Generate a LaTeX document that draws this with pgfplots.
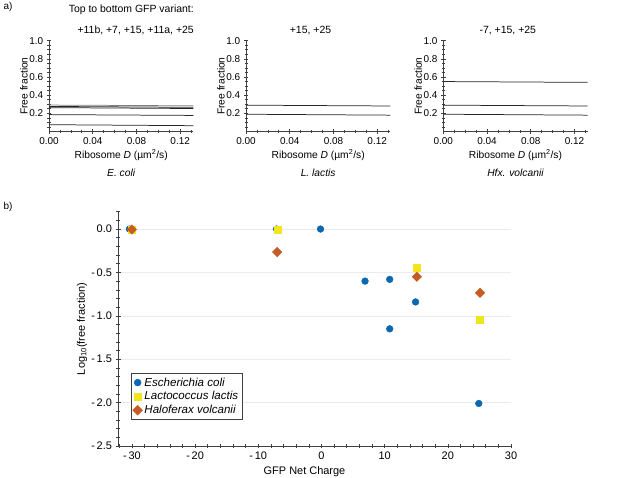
\documentclass[border=0pt]{standalone}
\usepackage{fontspec}
\setmainfont{Liberation Sans}
\usepackage{pgfplots}
\pgfplotsset{compat=1.18}
\definecolor{cblue}{HTML}{0A67B1}
\definecolor{cyel}{HTML}{F2E51A}
\definecolor{corange}{HTML}{C55C26}
\definecolor{axgray}{HTML}{404040}
\pgfplotsset{
 panel/.style={
  at={(#1)}, anchor=south west,
  scale only axis, width=144.3bp, height=90.8bp,
  xmin=0, xmax=0.132, ymin=0, ymax=1.0,
  clip=false,
  axis lines=left, axis line style={-, axgray, line width=0.6pt},
  tick align=center, tick style={axgray, line width=0.6pt},
  major tick length=4.5bp, minor tick length=3bp,
  xtick={0,0.04,0.08,0.12}, xticklabels={0.00,0.04,0.08,0.12},
  minor xtick={0.01,0.02,0.03,0.05,0.06,0.07,0.09,0.10,0.11,0.13},
  ytick={0.2,0.4,0.6,0.8,1.0}, yticklabels={0.2,0.4,0.6,0.8,1.0},
  minor ytick={0.05,0.1,0.15,0.25,0.3,0.35,0.45,0.5,0.55,0.65,0.7,0.75,0.85,0.9,0.95},
  tick label style={font=\fontsize{10}{12}\selectfont},
  label style={font=\fontsize{10.3}{12}\selectfont},
  xlabel={Ribosome \textit{D} (µm\textsuperscript{2}/s)},
  ylabel={Free fraction},
  xlabel style={at={(axis description cs:0.5,0)}, anchor=center, yshift=-23.5bp},
  ylabel style={at={(axis description cs:0,0.5)}, anchor=center, yshift=25bp},
 },
 ln/.style={line width=0.75pt, color=black!85, no marks},
 lg/.style={line width=0.75pt, color=black!50, no marks},
}
\begin{document}
\begin{tikzpicture}
\useasboundingbox (0,0) rectangle (617bp,478bp);
\node[anchor=west, font=\fontsize{10}{12}\selectfont] at (0bp,471bp) {a)};
\node[anchor=west, font=\fontsize{10}{12}\selectfont] at (0bp,271bp) {b)};

% Panel 1: E. coli
\begin{axis}[panel={49bp,346.5bp}]
\addplot[lg] coordinates {(0,0.291) (0.132,0.283)};
\addplot[ln] coordinates {(0,0.276) (0.132,0.266)};
\addplot[ln] coordinates {(0,0.263) (0.132,0.253)};
\addplot[ln] coordinates {(0,0.186) (0.132,0.177)};
\addplot[ln] coordinates {(0,0.075) (0.132,0.064)};
\node[anchor=east, font=\fontsize{10.5}{12}\selectfont] at (rel axis cs:1,1) [xshift=4bp,yshift=30.7bp] {Top to bottom GFP variant:};
\node[anchor=east, font=\fontsize{10.5}{12}\selectfont] at (rel axis cs:1,1) [xshift=4bp,yshift=10bp] {+11b, +7, +15, +11a, +25};
\node[font=\fontsize{10.3}{12}\selectfont\itshape] at (rel axis cs:0.5,0) [yshift=-41.5bp] {E. coli};
\end{axis}

% Panel 2: L. lactis
\begin{axis}[panel={246bp,346.5bp}]
\addplot[ln] coordinates {(0,0.290) (0.132,0.281)};
\addplot[ln] coordinates {(0,0.190) (0.132,0.180)};
\node[font=\fontsize{10.5}{12}\selectfont] at (rel axis cs:0.447,1) [yshift=10bp] {+15, +25};
\node[font=\fontsize{10.3}{12}\selectfont\itshape] at (rel axis cs:0.5,0) [yshift=-41.5bp] {L. lactis};
\end{axis}

% Panel 3: Hfx. volcanii
\begin{axis}[panel={443.3bp,346.5bp}]
\addplot[ln] coordinates {(0,0.550) (0.132,0.541)};
\addplot[ln] coordinates {(0,0.290) (0.132,0.281)};
\addplot[ln] coordinates {(0,0.190) (0.132,0.180)};
\node[font=\fontsize{10.5}{12}\selectfont] at (rel axis cs:0.447,1) [yshift=10bp] {-7, +15, +25};
\node[font=\fontsize{10.3}{12}\selectfont\itshape] at (rel axis cs:0.5,0) [yshift=-41.5bp] {Hfx. volcanii};
\end{axis}

% Panel b
\begin{axis}[
  at={(118bp,32bp)}, anchor=south west,
  scale only axis, width=393bp, height=234.3bp,
  xmin=-32.2, xmax=30, ymin=-2.5, ymax=0.2,
  clip=false,
  axis lines=left, axis line style={-, axgray, line width=0.6pt},
  tick align=center, tick style={axgray, line width=0.6pt},
  major tick length=5bp, minor tick length=3.5bp,
  xtick={-30,-20,-10,0,10,20,30},
  xticklabels={-\,30,-\,20,-\,10,0,10,20,30},
  minor xtick={-32,-28,-26,-24,-22,-18,-16,-14,-12,-8,-6,-4,-2,2,4,6,8,12,14,16,18,22,24,26,28},
  ytick={-2.5,-2.0,-1.5,-1.0,-0.5,0},
  yticklabels={-\,2.5,-\,2.0,-\,1.5,-\,1.0,-\,0.5,0.0},
  minor ytick={-2.4,-2.3,-2.2,-2.1,-1.9,-1.8,-1.7,-1.6,-1.4,-1.3,-1.2,-1.1,-0.9,-0.8,-0.7,-0.6,-0.4,-0.3,-0.2,-0.1,0.1,0.2},
  ymajorgrids, major grid style={black!8, line width=0.6pt},
  tick label style={font=\fontsize{11}{13}\selectfont},
  label style={font=\fontsize{11}{13}\selectfont},
  xlabel={GFP Net Charge},
  ylabel={Log\textsubscript{10}(free fraction)},
  xlabel style={at={(axis description cs:0.5,0)}, anchor=center, yshift=-25.7bp, xshift=-10bp},
  ylabel style={at={(axis description cs:0,0.5)}, anchor=center, yshift=36bp},
  legend style={at={(axis description cs:0.032,0.31)}, anchor=north west,
    draw=axgray, line width=0.6pt, font=\fontsize{11.6}{14}\selectfont\itshape,
    inner sep=2pt, row sep=0pt},
  legend cell align=left,
]
\addplot[only marks, mark=*, mark size=3.4pt, color=cblue] coordinates {
 (-30.4,0) (-7.1,0) (-0.15,0) (6.9,-0.60) (10.8,-0.58) (14.9,-0.84) (10.8,-1.15) (24.9,-2.01)};
\addlegendentry{Escherichia coli}
\addplot[only marks, mark=square*, mark size=3.5pt, color=cyel] coordinates {
 (-30,-0.01) (-7,-0.01) (15,-0.45) (25.05,-1.05)};
\addlegendentry{Lactococcus lactis}
\addplot[only marks, mark=square*, mark size=3.4pt, mark options={rotate=45}, color=corange] coordinates {
 (-30,-0.005) (-7,-0.265) (15.1,-0.55) (25.1,-0.735)};
\addlegendentry{Haloferax volcanii}
\end{axis}
\end{tikzpicture}
\end{document}
